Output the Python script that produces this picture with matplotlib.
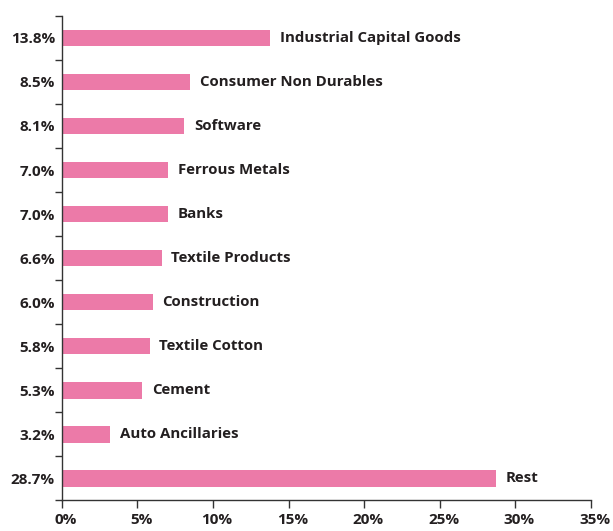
import matplotlib.pyplot as plt
import matplotlib.transforms as mtransforms
from matplotlib.ticker import FixedLocator

sectors = ["Industrial Capital Goods", "Consumer Non Durables", "Software",
           "Ferrous Metals", "Banks", "Textile Products", "Construction",
           "Textile Cotton", "Cement", "Auto Ancillaries", "Rest"]
weights = [13.8, 8.5, 8.1, 7.0, 7.0, 6.6, 6.0, 5.8, 5.3, 3.2, 28.7]
xticks = [0, 5, 10, 15, 20, 25, 30, 35]

plt.rcParams['font.family'] = ['Open Sans', 'DejaVu Sans']

fig = plt.figure(figsize=(6.13, 5.31), dpi=100)
ax = fig.add_axes([0.101, 0.058, 0.863, 0.912])

pos = list(range(len(sectors)))
ax.barh(pos, weights, height=0.38, color="#ec7aa8")
for p, w, s in zip(pos, weights, sectors):
    ax.text(w + 0.65, p, s, va="center", ha="left", fontsize=10.8, fontweight="bold", color="#231f20")

ax.set_ylim(len(sectors) - 0.5, -0.5)
ax.set_xlim(0, 35)
ax.set_yticks(pos)
ax.set_yticklabels([f"{w:.1f}%" for w in weights], fontsize=11, fontweight="bold", color="#231f20")
ax.yaxis.set_minor_locator(FixedLocator([i - 0.5 for i in range(len(sectors) + 1)]))
ax.tick_params(axis="y", which="major", length=0, pad=5)
ax.tick_params(axis="y", which="minor", length=5, width=1, color="#333333")
ax.set_xticks(xticks)
ax.set_xticklabels([f"{t}%" for t in xticks], fontsize=11, fontweight="bold", color="#231f20")
ax.tick_params(axis="x", length=6, width=1, color="#333333", pad=3)

# x labels sit a little right of their ticks in the original
shift = mtransforms.ScaledTranslation(4 / 100, 0, fig.dpi_scale_trans)
for lbl in ax.get_xticklabels():
    lbl.set_transform(lbl.get_transform() + shift)

for s in ["top", "right"]:
    ax.spines[s].set_visible(False)
for s in ["left", "bottom"]:
    ax.spines[s].set_color("#333333")
    ax.spines[s].set_linewidth(1)

fig.savefig("out.png", dpi=100)
